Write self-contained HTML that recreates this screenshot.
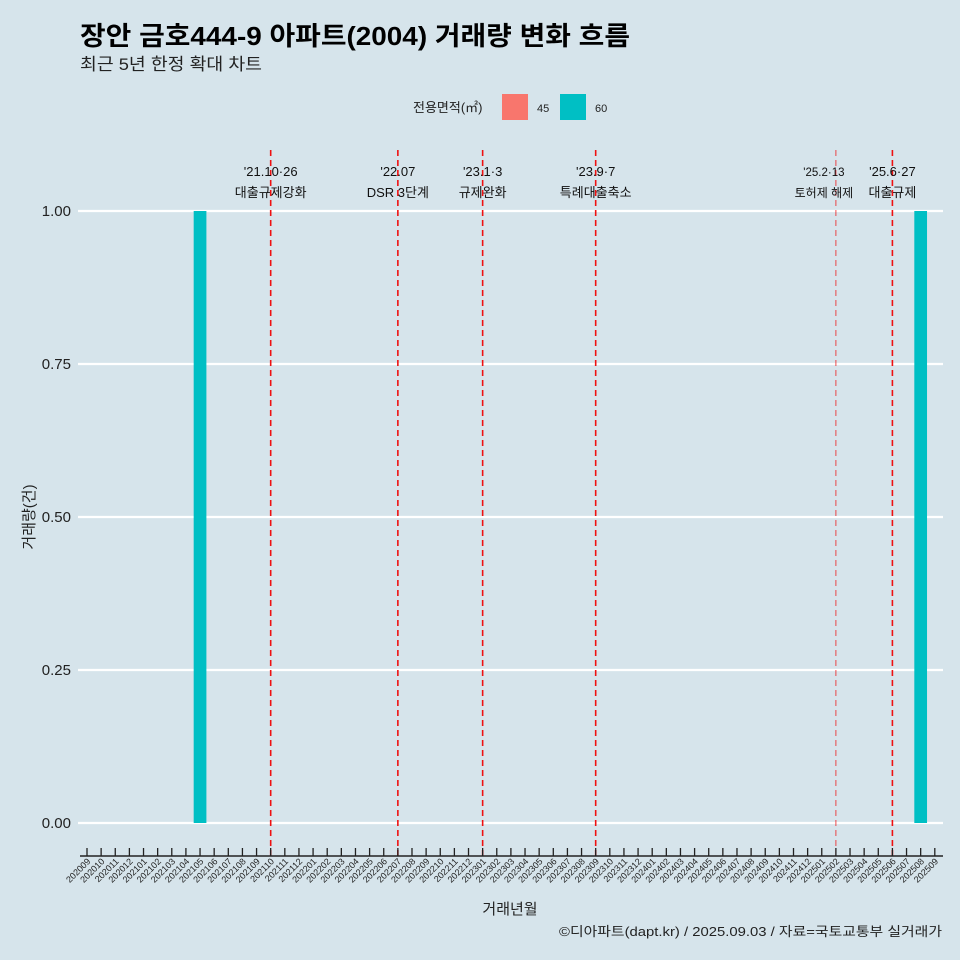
<!DOCTYPE html>
<html><head><meta charset="utf-8">
<style>
body{margin:0;background:#d6e4eb;}
svg{display:block;font-family:"Liberation Sans","Noto Sans CJK KR",sans-serif;}
</style></head>
<body>
<svg id="chart" width="960" height="960" viewBox="0 0 960 960">
<rect width="960" height="960" fill="#d6e4eb"/>
<text x="80" y="45" font-size="26" font-weight="bold" fill="#000" textLength="550" lengthAdjust="spacingAndGlyphs">장안 금호444-9 아파트(2004) 거래량 변화 흐름</text>
<text x="80" y="70" font-size="17" fill="#222" textLength="182" lengthAdjust="spacingAndGlyphs">최근 5년 한정 확대 차트</text>
<g>
<text x="413" y="112" font-size="13" fill="#222">전용면적(㎡)</text>
<rect x="502" y="94" width="26" height="26" fill="#f8766d"/>
<text x="537" y="112" font-size="11" fill="#222">45</text>
<rect x="560" y="94" width="26" height="26" fill="#00bfc4"/>
<text x="595" y="112" font-size="11" fill="#222">60</text>
</g>
<g id="grid"></g>
<g id="bars"></g>
<g id="events"></g>
<g id="xaxis"></g>
<g id="yaxis"></g>
<text x="510" y="914" font-size="15" text-anchor="middle" fill="#222">거래년월</text>
<text transform="translate(34,517) rotate(-90)" font-size="15" text-anchor="middle" fill="#222">거래량(건)</text>
<text x="559" y="936" font-size="13" fill="#222" textLength="383" lengthAdjust="spacingAndGlyphs">©디아파트(dapt.kr) / 2025.09.03 / 자료=국토교통부 실거래가</text>
</svg>
<script>
const months = [];
for (let y = 2020; y <= 2025; y++) for (let m = 1; m <= 12; m++) {
  const k = y * 100 + m; if (k >= 202009 && k <= 202509) months.push(String(k));
}
const barMonths = ["202105", "202508"];
const barValues = [1, 1];
const yTicks = [0, 0.25, 0.5, 0.75, 1.0];
const yTickLabels = ["0.00", "0.25", "0.50", "0.75", "1.00"];
const eventMonths = ["202110", "202207", "202301", "202309", "202502", "202506"];
const eventDates = ["'21.10·26", "'22.07", "'23.1·3", "'23.9·7", "'25.2·13", "'25.6·27"];
const eventNames = ["대출규제강화", "DSR 3단계", "규제완화", "특례대출축소", "토허제 해제", "대출규제"];

const NS = "http://www.w3.org/2000/svg";
const x0 = 87, step = 14.13;
const xs = m => x0 + months.indexOf(m) * step;
const ys = v => 823 - v * 612;
function mk(tag, attrs, parent, text) {
  const e = document.createElementNS(NS, tag);
  for (const k in attrs) e.setAttribute(k, attrs[k]);
  if (text !== undefined) e.textContent = text;
  document.getElementById(parent).appendChild(e);
  return e;
}
yTicks.forEach((t, i) => {
  const g = mk("line", {x1: 78, x2: 943, y1: ys(t), y2: ys(t), stroke: "#fff", "stroke-width": 2.2}, "grid");
  
  
  const l = mk("text", {x: 71, y: ys(t) + 5, "font-size": 15, "text-anchor": "end", fill: "#222"}, "yaxis", yTickLabels[i]);
  
  
});
barMonths.forEach((m, i) => {
  const w = step * 0.9;
  const b = mk("rect", {x: xs(m) - w / 2, y: ys(barValues[i]), width: w, height: ys(0) - ys(barValues[i]), fill: "#00bfc4"}, "bars");
  
  
});
eventMonths.forEach((m, i) => {
  const x = xs(m);
  const thin = m === "202502";
  const ln = mk("line", {x1: x, x2: x, y1: 150, y2: 856, stroke: "#ee1111", "stroke-width": thin ? 1 : 1.6, "stroke-dasharray": "6,4", opacity: thin ? 0.75 : 1}, "events");
  
  
  const dx = i === 4 ? -12 : 0;
  const t1 = mk("text", {x: x + dx, y: 176, "font-size": i === 4 ? 11.5 : 13, "text-anchor": "middle", fill: "#111"}, "events", eventDates[i]);
  
  
  const t2 = mk("text", {x: x + dx, y: 197, "font-size": i === 4 ? 12 : 13, "text-anchor": "middle", fill: "#111"}, "events", eventNames[i]);
  
  
});
const ax = mk("line", {x1: 80, x2: 943, y1: 856, y2: 856, stroke: "#222", "stroke-width": 1.5}, "xaxis");


months.forEach(m => {
  const x = xs(m);
  const tk = mk("line", {x1: x, x2: x, y1: 848, y2: 856, stroke: "#222", "stroke-width": 1.3}, "xaxis");
  
  
  const lb = mk("text", {transform: `translate(${x + 4},862) rotate(-45)`, "font-size": 9, "text-anchor": "end", fill: "#222"}, "xaxis", m);
  
  
});
</script>
</body></html>
